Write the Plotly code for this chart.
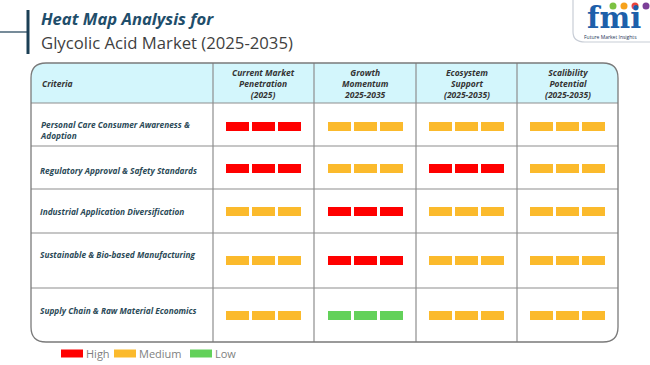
import plotly.graph_objects as go

# ---------------- data ----------------
criteria = [
    "Personal Care Consumer Awareness &<br>Adoption",
    "Regulatory Approval & Safety Standards",
    "Industrial Application Diversification",
    "Sustainable & Bio-based Manufacturing",
    "Supply Chain & Raw Material Economics",
]
columns = [
    "Current Market<br>Penetration<br>(2025)",
    "Growth<br>Momentum<br>2025-2035",
    "Ecosystem<br>Support<br>(2025-2035)",
    "Scalibility<br>Potential<br>(2025-2035)",
]
current_market = ["High", "High", "Medium", "Medium", "Medium"]
growth_momentum = ["Medium", "Medium", "High", "High", "Low"]
ecosystem_support = ["Medium", "High", "Medium", "Medium", "Medium"]
scalability = ["Medium", "Medium", "Medium", "Medium", "Medium"]
levels = ["High", "Medium", "Low"]

# ---------------- styling / layout ----------------
W, H = 650, 365
level_colors = {"High": "#FF0000", "Medium": "#FBBA2C", "Low": "#63D15A"}
col_edges = [31, 213, 314, 416, 517, 618]
row_edges = [63, 103, 146, 189, 233, 288, 342]
block_tops = [122, 163.5, 207, 256, 311]
label_y = [130, 170, 211, 254, 310]
block_w, block_h, block_step = 23, 9, 26
r = 15
grid_color = "#8E8E8E"
label_color = "#2B4A57"
font_fam = "Open Sans"

table = [current_market, growth_momentum, ecosystem_support, scalability]

fig = go.Figure()

# bars (blocks) per level
for lev in levels:
    xs, bases = [], []
    for ci, col_vals in enumerate(table):
        cx = (col_edges[ci + 1] + col_edges[ci + 2]) / 2
        for ri, v in enumerate(col_vals):
            if v != lev:
                continue
            for k in (-1, 0, 1):
                xs.append(cx + k * block_step)
                bases.append(block_tops[ri])
    fig.add_trace(go.Bar(
        x=xs, y=[block_h] * len(xs), base=bases, width=block_w,
        marker=dict(color=level_colors[lev], line=dict(width=0)),
        name=lev, showlegend=False, hoverinfo="skip",
    ))

L, R, T, B = col_edges[0], col_edges[-1], row_edges[0], row_edges[-1]
HB = row_edges[1]
shapes = []
# header fill
shapes.append(dict(
    type="path", xref="x", yref="y", layer="below",
    path=f"M {L+r},{T} L {R-r},{T} Q {R},{T} {R},{T+r} L {R},{HB} L {L},{HB} L {L},{T+r} Q {L},{T} {L+r},{T} Z",
    fillcolor="#D3F6FC", line=dict(width=0),
))
# inner grid lines
for x in col_edges[1:-1]:
    shapes.append(dict(type="line", xref="x", yref="y", x0=x, x1=x, y0=T, y1=B,
                       line=dict(color=grid_color, width=1.2)))
for y in row_edges[1:-1]:
    shapes.append(dict(type="line", xref="x", yref="y", x0=L, x1=R, y0=y, y1=y,
                       line=dict(color=grid_color, width=1.2)))
# outer rounded border
shapes.append(dict(
    type="path", xref="x", yref="y",
    path=(f"M {L+r},{T} L {R-r},{T} Q {R},{T} {R},{T+r} L {R},{B-r} Q {R},{B} {R-r},{B} "
          f"L {L+r},{B} Q {L},{B} {L},{B-r} L {L},{T+r} Q {L},{T} {L+r},{T} Z"),
    line=dict(color="#7A7A7A", width=1.3),
))
# title decoration
shapes.append(dict(type="line", xref="x", yref="y", x0=28, x1=28, y0=10, y1=54,
                   line=dict(color="#1B3F55", width=3)))
shapes.append(dict(type="line", xref="x", yref="y", x0=0, x1=28, y0=32, y1=32,
                   line=dict(color="#1B3F55", width=1.2)))
# logo frame
shapes.append(dict(type="path", xref="x", yref="y",
                   path="M 573,0 L 573,32 Q 573,42 585,42 L 650,42",
                   line=dict(color="#C8CDD6", width=1.2)))
for cx, c in [(613, "#7CC242"), (624, "#F7A21B"), (635, "#E8453C"), (646, "#7B3F98")]:
    shapes.append(dict(type="circle", xref="x", yref="y", x0=cx - 3.5, x1=cx + 3.5, y0=2.5, y1=9.5,
                       fillcolor=c, line=dict(width=0)))

annotations = []
# title
annotations.append(dict(x=39, y=18, xref="x", yref="y", xanchor="left", yanchor="middle",
                        text="Heat Map Analysis for", showarrow=False,
                        font=dict(family=font_fam, size=16.6, color="#1F4E6B", weight="bold", style="italic")))
annotations.append(dict(x=39, y=42, xref="x", yref="y", xanchor="left", yanchor="middle",
                        text="Glycolic Acid Market (2025-2035)", showarrow=False,
                        font=dict(family=font_fam, size=16.7, color="#3F3F3F")))
# logo text
annotations.append(dict(x=614, y=18, xref="x", yref="y", xanchor="center", yanchor="middle",
                        text="fmi", showarrow=False,
                        font=dict(family="DejaVu Serif", size=29, color="#1D5FAA", weight="bold")))
annotations.append(dict(x=610, y=36.5, xref="x", yref="y", xanchor="center", yanchor="middle",
                        text="Future Market Insights", showarrow=False,
                        font=dict(family=font_fam, size=5, color="#1D3557")))
# header
hdr_font = dict(family=font_fam, size=8.5, color="#333333", weight="bold", style="italic")
annotations.append(dict(x=40, y=(T + HB) / 2, xref="x", yref="y", xanchor="left", yanchor="middle",
                        text="Criteria", showarrow=False, font=hdr_font))
for ci, name in enumerate(columns):
    cx = (col_edges[ci + 1] + col_edges[ci + 2]) / 2
    annotations.append(dict(x=cx, y=(T + HB) / 2, xref="x", yref="y", xanchor="center", yanchor="middle",
                            text=name, showarrow=False, font=hdr_font, align="center"))
# row labels
for ri, name in enumerate(criteria):
    annotations.append(dict(x=37.5, y=label_y[ri], xref="x", yref="y", xanchor="left", yanchor="middle",
                            text=name, showarrow=False, align="left",
                            font=dict(family=font_fam, size=8.3, color=label_color, weight="bold", style="italic")))
# legend
legend_x = [61, 114, 190]
for lx, lev in zip(legend_x, levels):
    shapes.append(dict(type="rect", xref="x", yref="y", x0=lx, x1=lx + 22, y0=349.5, y1=357.5,
                       fillcolor=level_colors[lev], line=dict(width=0)))
    annotations.append(dict(x=lx + 23, y=353.5, xref="x", yref="y", xanchor="left", yanchor="middle",
                            text=lev, showarrow=False,
                            font=dict(family=font_fam, size=11, color="#7F7F7F")))

fig.update_layout(
    width=W, height=H, margin=dict(l=0, r=0, t=0, b=0),
    paper_bgcolor="white", plot_bgcolor="white",
    barmode="overlay", bargap=0,
    xaxis=dict(range=[0, W], visible=False, fixedrange=True),
    yaxis=dict(range=[H, 0], visible=False, fixedrange=True),
    shapes=shapes, annotations=annotations,
    showlegend=False,
)

fig.write_html("out.html", config={"displayModeBar": False},
               post_script="document.body.style.margin='0';document.body.style.padding='0';document.body.style.overflow='hidden';")
